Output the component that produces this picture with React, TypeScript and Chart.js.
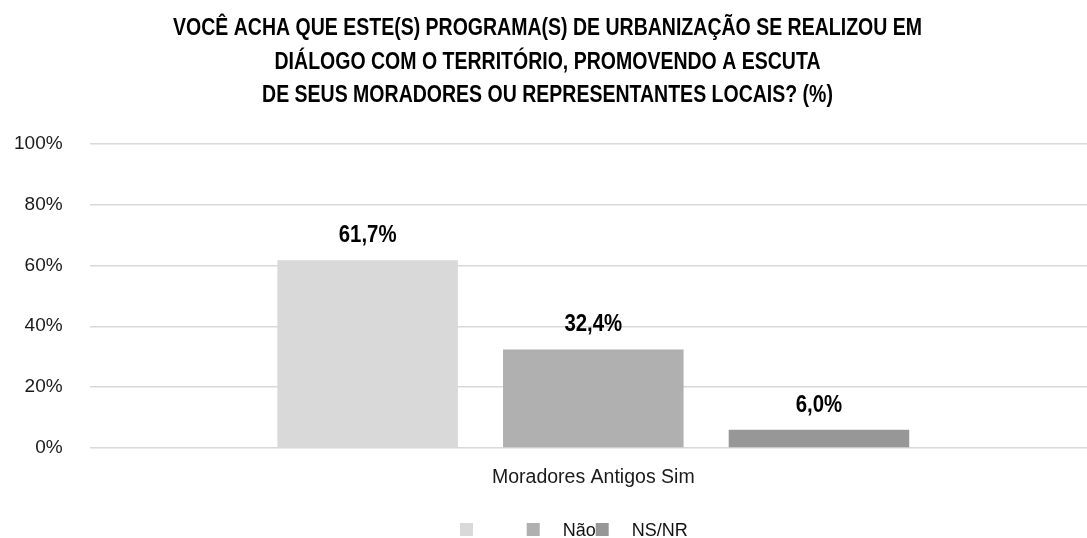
import React, { useEffect, useRef } from 'react';
import { Chart, registerables } from 'chart.js';

Chart.register(...registerables);

const categories = ['Moradores Antigos Sim'];
const seriesLabels = ['', 'Não', 'NS/NR'];
const seriesValues = [61.7, 32.4, 6.0];
const seriesColors = ['#d9d9d9', '#b0b0b0', '#979797'];
const yTickValues = [0, 20, 40, 60, 80, 100];
const titleLines = [
  'VOCÊ ACHA QUE ESTE(S) PROGRAMA(S) DE URBANIZAÇÃO SE REALIZOU EM',
  'DIÁLOGO COM O TERRITÓRIO, PROMOVENDO A ESCUTA',
  'DE SEUS MORADORES OU REPRESENTANTES LOCAIS? (%)',
];

const FONT = "'Liberation Sans', Arial, sans-serif";
const VIEW_W = 1087;
const CANVAS_W = 1097;
const H = 538;

const fmt = (v: number) => v.toFixed(1).replace('.', ',') + '%';

const drawCondensed = (ctx: any, text: string, x: number, y: number, sx: number) => {
  ctx.save();
  ctx.translate(x, y);
  ctx.scale(sx, 1);
  ctx.fillText(text, 0, 0);
  ctx.restore();
};

const customPlugin = {
  id: 'customDraw',
  afterDraw(chart: any) {
    const ctx = chart.ctx;
    ctx.save();
    // title
    ctx.fillStyle = '#000000';
    ctx.font = `bold 24px ${FONT}`;
    ctx.textAlign = 'center';
    ctx.textBaseline = 'alphabetic';
    const tw = ctx.measureText(titleLines[0]).width;
    const sx = 749 / tw;
    titleLines.forEach((line, i) => {
      drawCondensed(ctx, line, VIEW_W / 2 + 4, 35 + i * 33.5, sx);
    });
    // data labels
    ctx.font = `bold 24px ${FONT}`;
    chart.data.datasets.forEach((ds: any, di: number) => {
      const meta = chart.getDatasetMeta(di);
      meta.data.forEach((bar: any, i: number) => {
        drawCondensed(ctx, fmt(ds.data[i]), bar.x, bar.y - 18, 0.85);
      });
    });
    // legend
    const cx = VIEW_W / 2;
    const boxOffsets = [-83.5, -16.8, 52.2];
    const textOffsets = [-60, 19.2, 88.2];
    ctx.font = `18px ${FONT}`;
    ctx.textAlign = 'left';
    seriesLabels.forEach((lab, i) => {
      ctx.fillStyle = seriesColors[i];
      ctx.fillRect(cx + boxOffsets[i], 523, 13, 13);
      ctx.fillStyle = '#111111';
      if (lab) ctx.fillText(lab, cx + textOffsets[i], 536);
    });
    ctx.restore();
  },
};

export default function App() {
  const ref = useRef<HTMLCanvasElement | null>(null);
  useEffect(() => {
    document.body.style.margin = '0';
    const canvas = ref.current;
    if (!canvas) return;
    const chart = new Chart(canvas, {
      type: 'bar',
      data: {
        labels: categories,
        datasets: seriesLabels.map((lab, i) => ({
          label: lab,
          data: [seriesValues[i]],
          backgroundColor: seriesColors[i],
          borderWidth: 0,
          categoryPercentage: 0.672,
          barPercentage: 0.8,
        })),
      },
      options: {
        animation: false,
        responsive: false,
        maintainAspectRatio: false,
        layout: { padding: { left: -13, right: 0, top: 143.5, bottom: 30.5 } },
        plugins: {
          legend: { display: false },
          title: { display: false },
          tooltip: { enabled: false },
        },
        scales: {
          x: {
            grid: { display: false, drawTicks: false },
            border: { display: false },
            ticks: {
              color: '#1a1a1a',
              font: { family: FONT, size: 19.5 },
              padding: 18,
            },
          },
          y: {
            min: 0,
            max: 100,
            afterBuildTicks: (axis: any) => {
              axis.ticks = yTickValues.map((v) => ({ value: v }));
            },
            grid: { color: '#d9d9d9', lineWidth: 1.5, drawTicks: false },
            border: { display: false },
            ticks: {
              color: '#1a1a1a',
              font: { family: FONT, size: 19 },
              padding: 27,
              callback: (v: any) => v + '%',
            },
          },
        },
      },
      plugins: [customPlugin],
    });
    return () => chart.destroy();
  }, []);
  return (
    <div style={{ width: VIEW_W, height: H, overflow: 'hidden' }}>
      <canvas ref={ref} width={CANVAS_W} height={H} style={{ width: CANVAS_W, height: H, display: 'block' }} />
    </div>
  );
}
